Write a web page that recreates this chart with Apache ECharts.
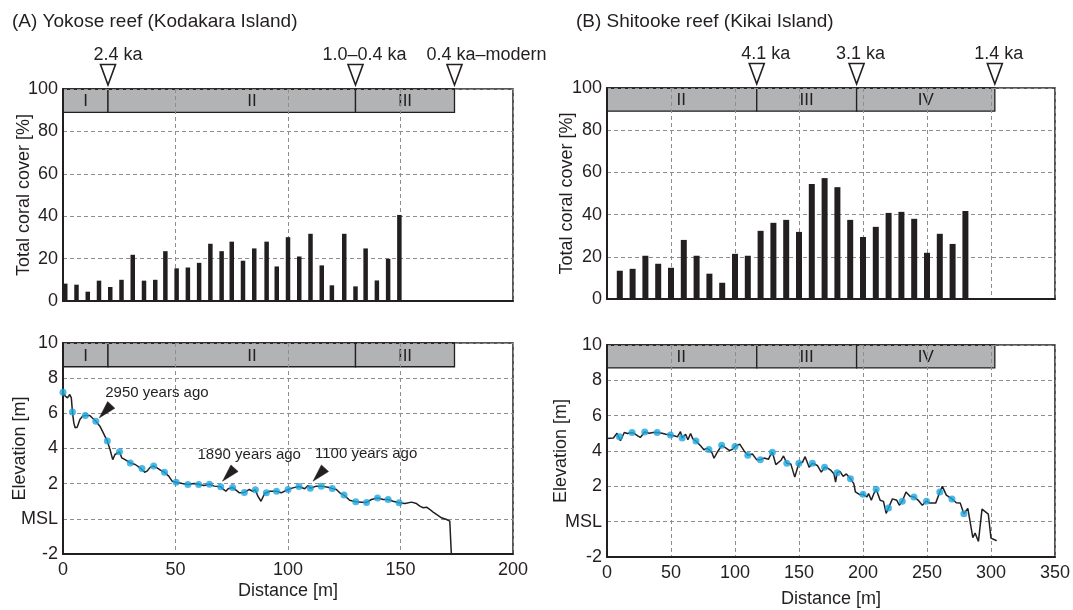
<!DOCTYPE html>
<html><head><meta charset="utf-8">
<script src="https://cdn.jsdelivr.net/npm/echarts@6/dist/echarts.min.js"></script>
<style>html,body{margin:0;padding:0;background:#fff}#c{width:1073px;height:610px}</style>
</head><body><div id="c"></div>
<script>
// ---------- DATA ----------
// (A) Yokose reef – coral cover transect
const coverDistA = [1,6,11,16,21,26,31,36,41,45.5,50.5,55.5,60.5,65.5,70.5,75,80,85,90.5,95,100,105,110,115,119.5,125,130,134.5,139.5,144.5,149.5];
const coverA = [8.2,7.7,4.4,9.6,6.6,10,21.8,9.6,10,23.5,15.4,15.8,18,27,23.5,28,19,24.8,28,16.3,30.1,21,31.7,16.8,7.4,31.7,6.9,24.8,9.7,19.9,40.6];
// (B) Shitooke reef – coral cover transect
const coverDistB = [10,20,30,40,50,60,70,80,90,100,110,120,130,140,150,160,170,180,190,200,210,220,230,240,250,260,270,280];
const coverB = [13.4,14.3,20.5,16.7,14.8,28,20.5,12,7.7,21.4,20.5,32.3,36.1,37.5,31.8,54.5,57.3,53,37.5,29.4,34.2,40.8,41.3,38,21.9,30.9,26.1,41.7];

// (A) elevation profile
const profDistA = [0,1,2,3,3.7,4.2,4.8,5.4,6.3,7.5,8.7,9.9,11.9,14.6,16.4,17.9,19.7,20.9,22.1,23.1,23.9,25.1,26.1,27.6,29.9,32.1,34.3,35.1,36.3,37.3,38.8,40.3,41.8,43.3,45.1,47,48.5,50.3,53,55.5,58.2,60.3,62.7,65.1,67.2,70.1,71.3,72.4,73.4,75.4,76.9,78.4,80.6,82.8,84.3,85.5,86.6,88,89.6,90.6,91.8,94.8,97,100,102.2,104.9,107.4,108.9,109.9,112.6,114.8,117.8,119.7,121.5,123,124.9,127.4,130.1,132.6,134.9,137.1,139.8,142.3,144.5,146.7,149.4,152,154.9,157.1,158.6,160.1,161.6,163.1,164.5,166,168.2,170.5,171.9,172.7];
const profElevA = [7.2,6.98,6.88,7.07,6.88,6.07,5.46,5.18,5.21,5.65,5.84,5.88,5.88,5.55,5.27,4.89,4.42,3.94,3.37,3.66,3.6,3.81,3.47,3.37,3.18,3.09,2.9,2.86,2.65,2.71,2.94,3.0,2.9,2.77,2.65,2.43,2.14,2.08,2.01,1.95,2.01,1.95,1.9,1.97,1.86,1.82,1.67,1.57,1.71,1.78,1.63,1.48,1.5,1.67,1.57,1.65,1.29,1.0,1.44,1.5,1.57,1.57,1.48,1.67,1.76,1.84,1.71,1.9,1.74,1.86,1.86,1.8,1.73,1.67,1.48,1.35,1.06,0.97,0.95,0.93,1.1,1.19,1.1,1.1,1.0,0.91,0.87,0.95,0.87,0.72,0.63,0.66,0.53,0.38,0.25,0.06,-0.04,-0.13,-2.3];
const dotDistA = [0,4.2,9.9,14.6,19.7,25.1,29.9,35.1,40.3,45.1,50.3,55.5,60.3,65.1,70.1,75.4,80.6,85.5,90.4,94.9,100,104.9,109.9,114.8,119.7,124.9,130.1,134.9,139.8,144.5,149.4];
const dotElevA = [7.2,6.07,5.88,5.55,4.42,3.81,3.18,2.86,3.0,2.65,2.08,1.95,1.95,1.97,1.82,1.78,1.5,1.65,1.49,1.57,1.67,1.84,1.74,1.86,1.73,1.35,0.97,0.93,1.19,1.10,0.91];

// (B) elevation profile
const profDistB = [0,5,7.8,10.5,13.5,16,19.6,22,24,26,29.5,33,36,39.2,43,46,49.6,53,55,57.4,58.7,61.4,63.2,65.3,67,69.5,71,73.1,75.7,78,79.6,82,83.6,86.2,89.6,92.7,95.8,98,100,103.7,107,110,113.6,117,119.8,122.7,126.1,127.9,129.2,131.9,135.8,137.9,140.5,143.6,146.7,149.9,152.7,154.8,157.9,160.5,164.3,167.4,170,173,175,177.3,178.6,179.8,182,184.5,187,190.2,192.8,194.1,197.4,200,203.1,204.4,206.5,208.5,210.3,213.4,216,218.1,219.9,223,226.4,228.4,230.7,233.6,236.7,239.8,243.2,246.3,249.6,252,256.8,260,262,265.1,269.5,272.9,276,278.8,281.9,285.8,287.6,290.2,293,297.9,300,304.4];
const profElevB = [4.71,4.74,5.0,4.58,5.05,4.99,5.05,4.95,4.86,4.77,5.07,5.0,5.05,5.05,5.0,4.95,4.9,4.85,4.8,5.1,4.73,4.95,4.64,4.99,4.7,4.56,4.5,4.3,4.07,4.15,4.09,3.9,3.59,3.93,4.32,4.17,4.02,4.1,4.26,4.39,4.02,3.76,3.83,3.5,3.51,3.6,3.53,3.79,3.93,3.23,3.46,3.72,3.31,3.27,2.52,3.31,3.36,3.68,3.08,3.31,3.18,2.8,3.08,3.0,2.9,2.71,2.24,2.77,2.85,2.56,2.7,2.43,2.15,1.68,1.53,1.55,1.4,1.59,1.21,1.59,1.83,1.21,1.15,0.47,0.77,1.29,1.21,0.93,1.16,1.68,1.44,1.4,1.21,0.93,1.16,1.05,1.05,1.68,2.0,1.5,1.29,1.07,1.05,0.45,0.75,-0.9,-0.65,-1.12,0.71,0.43,-0.93,-1.08];
const dotDistB = [9.7,19.6,29.5,39.2,49.6,58.7,69.5,79.6,89.6,100,110,119.8,129.2,140.5,149.9,160.5,170,179.8,190.2,200,210.3,219.9,230.7,239.8,249.6,260,269.5,278.8];
const dotElevB = [4.8,5.05,5.07,5.05,4.9,4.73,4.56,4.09,4.32,4.26,3.76,3.51,3.93,3.31,3.31,3.31,3.08,2.77,2.43,1.55,1.83,0.77,1.16,1.4,1.16,1.68,1.29,0.45];

// Reef stages (boundaries in metres)
const stageEdgesA = [0,20,130,174];
const stageNamesA = ['I','II','III'];
const stageLabelAtA = [10,84,152];
const stageEdgesB = [0,117,195,303];
const stageNamesB = ['II','III','IV'];
const stageLabelAtB = [58,156,249];

// Dated boundaries
const ageDistA = [20,130,174];
const ageNamesA = ['2.4 ka','1.0\u20130.4 ka','0.4 ka\u2013modern'];
const ageDistB = [117,195,303];
const ageNamesB = ['4.1 ka','3.1 ka','1.4 ka'];

// Dated sample annotations on profile A
const noteNamesA = ['2950 years ago','1890 years ago','1100 years ago'];
const noteDistA = [16.1,70.9,111.1];
const noteElevA = [5.74,2.14,2.14];

// Axis ticks
const coverTicks = {min:0,max:100,interval:20};
const elevTicks = {min:-2,max:10,interval:2};
const distTicksA = {min:0,max:200,interval:50};
const distTicksB = {min:0,max:350,interval:50};

// ---------- STYLE ----------
const INK = '#231f20';
const FONT = "'Liberation Sans', Arial, Helvetica, sans-serif";
const GRIDC = '#8e8e8e';
const ageLabelShiftA = [10, 9, 32];
const ageLabelShiftB = [9, 4, 4];
const noteTextOffset = [[6,-25],[-25,-26],[2,-27]];

const zip = (a,b) => a.map((v,i) => [v, b[i]]);

function stageSeries(gi, edges, names, labelAt, top, bottom) {
  const data = names.map((n,i) => [edges[i], edges[i+1], labelAt[i]]);
  return {
    type:'custom', xAxisIndex:gi, yAxisIndex:gi, z:-1, silent:true, clip:false,
    data, encode:{x:[0,1]},
    renderItem:(params, api) => {
      const a = api.coord([api.value(0), top]);
      const b = api.coord([api.value(1), bottom]);
      const cx = api.coord([api.value(2), top])[0];
      return {type:'group', children:[
        {type:'rect', shape:{x:a[0], y:a[1], width:b[0]-a[0], height:b[1]-a[1]},
         style:{fill:'#b2b3b5', stroke:INK, lineWidth:1.3}},
        {type:'text', style:{x:cx, y:(a[1]+b[1])/2+1, text:names[params.dataIndex], fill:INK,
         font:'17px ' + FONT, align:'center', verticalAlign:'middle'}}
      ]};
    }
  };
}

function ageSeries(gi, xs, names, shifts) {
  return {
    type:'custom', xAxisIndex:gi, yAxisIndex:gi, z:5, silent:true, clip:false,
    data: xs.map(x => [x, 100]), encode:{x:0, y:1},
    renderItem:(params, api) => {
      const p = api.coord([api.value(0), api.value(1)]);
      const i = params.dataIndex;
      return {type:'group', children:[
        {type:'polygon', shape:{points:[[p[0], p[1]-4],[p[0]-7.5, p[1]-24.5],[p[0]+7.5, p[1]-24.5]]},
         style:{fill:'#fff', stroke:INK, lineWidth:1.6}},
        {type:'text', style:{x:p[0]+shifts[i], y:p[1]-34, text:names[i], fill:INK,
         font:'18px ' + FONT, align:'center', verticalAlign:'middle'}}
      ]};
    }
  };
}

function noteSeries(gi, xs, ys, names) {
  return {
    type:'custom', xAxisIndex:gi, yAxisIndex:gi, z:5, silent:true, clip:false,
    data: zip(xs, ys), encode:{x:0, y:1},
    renderItem:(params, api) => {
      const p = api.coord([api.value(0), api.value(1)]);
      const i = params.dataIndex;
      const bc = [p[0]+12, p[1]-13];
      const px = 3.6, py = 3.3;
      return {type:'group', children:[
        {type:'polygon', shape:{points:[[p[0],p[1]],[bc[0]+px, bc[1]+py],[bc[0]-px, bc[1]-py]]},
         style:{fill:INK, stroke:INK, lineWidth:0.5}},
        {type:'text', style:{x:p[0]+noteTextOffset[i][0], y:p[1]+noteTextOffset[i][1], text:names[i], fill:INK,
         font:'15px ' + FONT, align:'left', verticalAlign:'middle'}}
      ]};
    }
  };
}

function xAxisCfg(gi, ticks, showLabels, nameGap) {
  return {
    gridIndex:gi, type:'value', min:ticks.min, max:ticks.max, interval:ticks.interval,
    name: showLabels ? 'Distance [m]' : '', nameLocation:'middle', nameGap,
    nameMoveOverlap:false,
    nameTextStyle:{fontSize:18, color:INK, fontFamily:FONT},
    axisLine:{show:true, onZero:false, lineStyle:{color:INK, width:2}},
    axisTick:{show:false},
    axisLabel:{show:showLabels, fontSize:18, color:INK, fontFamily:FONT, margin:7},
    splitLine:{show:true, lineStyle:{color:GRIDC, type:[4,3], width:1}}
  };
}
function yAxisCfg(gi, ticks, name, nameGap, msl) {
  return {
    gridIndex:gi, type:'value', min:ticks.min, max:ticks.max, interval:ticks.interval,
    name, nameLocation:'middle', nameGap,
    nameMoveOverlap:false,
    nameTextStyle:{fontSize:18, color:INK, fontFamily:FONT},
    axisLine:{show:true, onZero:false, lineStyle:{color:INK, width:2}},
    axisTick:{show:false},
    axisLabel:{fontSize:18, color:INK, fontFamily:FONT, margin:5,
      formatter: v => (msl && v === 0) ? 'MSL' : String(v)},
    splitLine:{show:true, lineStyle:{color:GRIDC, type:[4,3], width:1}}
  };
}

const gridBase = {show:true, borderColor:INK, borderWidth:1.5, backgroundColor:'transparent'};
const chart = echarts.init(document.getElementById('c'), null, {renderer:'canvas'});
chart.setOption({
  animation:false,
  backgroundColor:'#fff',
  textStyle:{fontFamily:FONT},
  title:[
    {text:'(A) Yokose reef (Kodakara Island)', left:7, top:7, textStyle:{fontSize:19, fontWeight:'normal', color:INK, fontFamily:FONT}},
    {text:'(B) Shitooke reef (Kikai Island)', left:571, top:7, textStyle:{fontSize:19, fontWeight:'normal', color:INK, fontFamily:FONT}}
  ],
  grid:[
    Object.assign({left:63, top:89, width:450, height:212}, gridBase),
    Object.assign({left:63, top:343, width:450, height:211}, gridBase),
    Object.assign({left:607, top:88, width:448, height:211}, gridBase),
    Object.assign({left:607, top:345, width:448, height:212}, gridBase)
  ],
  xAxis:[
    xAxisCfg(0, distTicksA, false, 0),
    xAxisCfg(1, distTicksA, true, 28),
    xAxisCfg(2, distTicksB, false, 0),
    xAxisCfg(3, distTicksB, true, 33)
  ],
  yAxis:[
    yAxisCfg(0, coverTicks, 'Total coral cover [%]', 30, false),
    yAxisCfg(1, elevTicks, 'Elevation [m]', 34, true),
    yAxisCfg(2, coverTicks, 'Total coral cover [%]', 31, false),
    yAxisCfg(3, elevTicks, 'Elevation [m]', 37, true)
  ],
  series:[
    stageSeries(0, stageEdgesA, stageNamesA, stageLabelAtA, 100, 89),
    stageSeries(1, stageEdgesA, stageNamesA, stageLabelAtA, 10, 8.65),
    stageSeries(2, stageEdgesB, stageNamesB, stageLabelAtB, 100, 89),
    stageSeries(3, stageEdgesB, stageNamesB, stageLabelAtB, 10, 8.7),
    {type:'bar', xAxisIndex:0, yAxisIndex:0, data:zip(coverDistA, coverA), barWidth:4.5,
     itemStyle:{color:INK}, z:3},
    {type:'bar', xAxisIndex:2, yAxisIndex:2, data:zip(coverDistB, coverB), barWidth:6,
     itemStyle:{color:INK}, z:3},
    {type:'line', xAxisIndex:1, yAxisIndex:1, data:zip(profDistA, profElevA), showSymbol:false,
     lineStyle:{color:INK, width:1.5}, z:3},
    {type:'line', xAxisIndex:3, yAxisIndex:3, data:zip(profDistB, profElevB), showSymbol:false,
     lineStyle:{color:INK, width:1.5}, z:3},
    {type:'scatter', xAxisIndex:1, yAxisIndex:1, data:zip(dotDistA, dotElevA), symbolSize:7,
     itemStyle:{color:'#1ea6e0'}, z:4},
    {type:'scatter', xAxisIndex:3, yAxisIndex:3, data:zip(dotDistB, dotElevB), symbolSize:7,
     itemStyle:{color:'#1ea6e0'}, z:4},
    ageSeries(0, ageDistA, ageNamesA, ageLabelShiftA),
    ageSeries(2, ageDistB, ageNamesB, ageLabelShiftB),
    noteSeries(1, noteDistA, noteElevA, noteNamesA)
  ]
});
</script></body></html>
